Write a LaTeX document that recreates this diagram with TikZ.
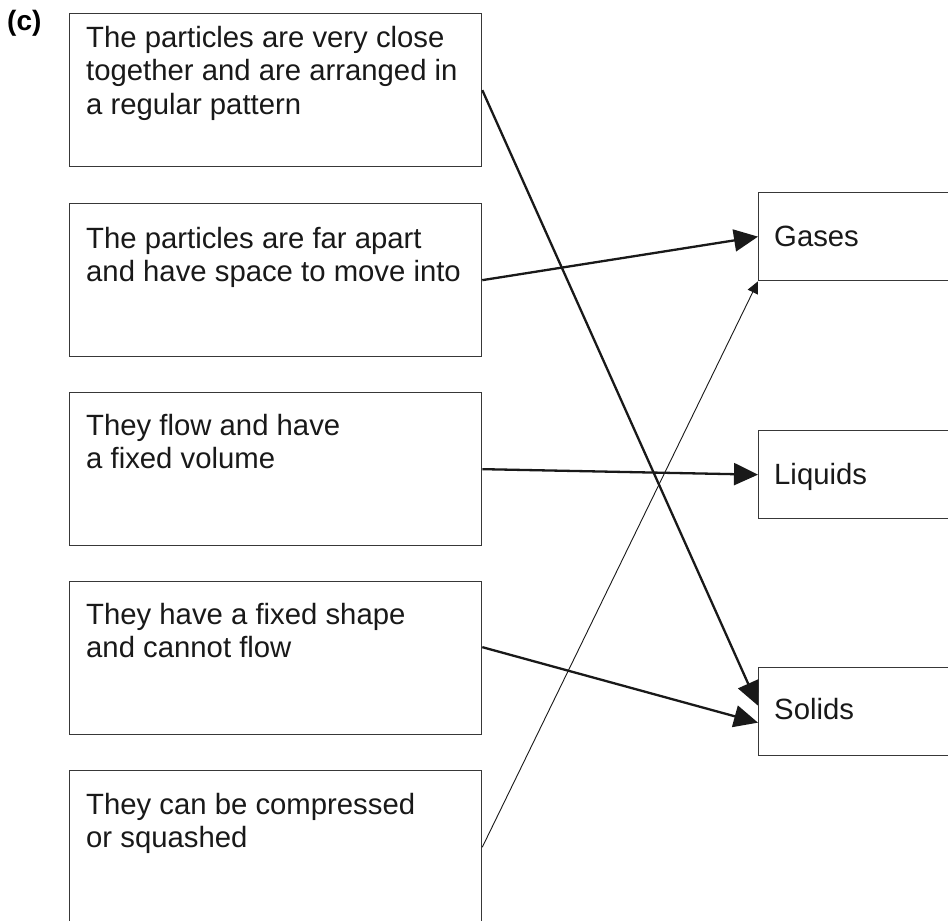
\documentclass[tikz,border=0pt]{standalone}
\usepackage{fontspec}
\setmainfont{Liberation Sans}
\usetikzlibrary{calc,arrows.meta}
\begin{document}
\begin{tikzpicture}[x=1pt,y=-1pt,
  box/.style={draw=black!78, line width=1.3pt, rectangle, inner sep=0pt, anchor=north west},
  lbox/.style={box, minimum width=412pt, minimum height=153pt},
  rbox/.style={box, minimum width=260pt, minimum height=88pt},
  txt/.style={anchor=north west, inner sep=0pt, font=\fontsize{29.3}{33.5}\selectfont, align=left, text=black!90},
  link/.style={line width=2.3pt, black!90, -{Triangle[length=24pt,width=22pt]}},
  thinlink/.style={line width=0.9pt, black!90, -{Triangle[length=12pt,width=11pt]}}]
\clip (0,0) rectangle (948,921);
\fill[white] (0,0) rectangle (948,921);
% left boxes
\node[lbox] (b1) at (69,13) {};
\node[lbox] (b2) at (69,203) {};
\node[lbox] (b3) at (69,392) {};
\node[lbox] (b4) at (69,581) {};
\node[lbox] (b5) at (69,770) {};
% right boxes
\node[rbox] (gases) at (758,192) {};
\node[rbox] (liquids) at (758,430) {};
\node[rbox] (solids) at (758,667) {};
% texts
\node[anchor=north west, inner sep=0pt, font=\fontsize{28}{30}\selectfont\bfseries] (lbl) at (7,10) {(c)};
\node[txt] (t1) at (86,26) {The particles are very close\\together and are arranged in\\a regular pattern};
\node[txt] (t2) at (86,227) {The particles are far apart\\and have space to move into};
\node[txt] (t3) at (86,414) {They flow and have\\a fixed volume};
\node[txt] (t4) at (86,603) {They have a fixed shape\\and cannot flow};
\node[txt] (t5) at (86,793) {They can be compressed\\or squashed};
\node[txt] (tg) at (774,226) {Gases};
\node[txt] (tl) at (774,463) {Liquids};
\node[txt] (ts) at (774,698) {Solids};
% connectors
\draw[link] (b1.east) -- ($(solids.west)+(0,-6)$);
\draw[link] (b2.east) -- (gases.west);
\draw[link] (b3.east) -- (liquids.west);
\draw[link] ($(b4.east)+(0,-11)$) -- ($(solids.west)+(0,11)$);
\draw[thinlink] (b5.east) -- (gases.south west);
\end{tikzpicture}
\end{document}
